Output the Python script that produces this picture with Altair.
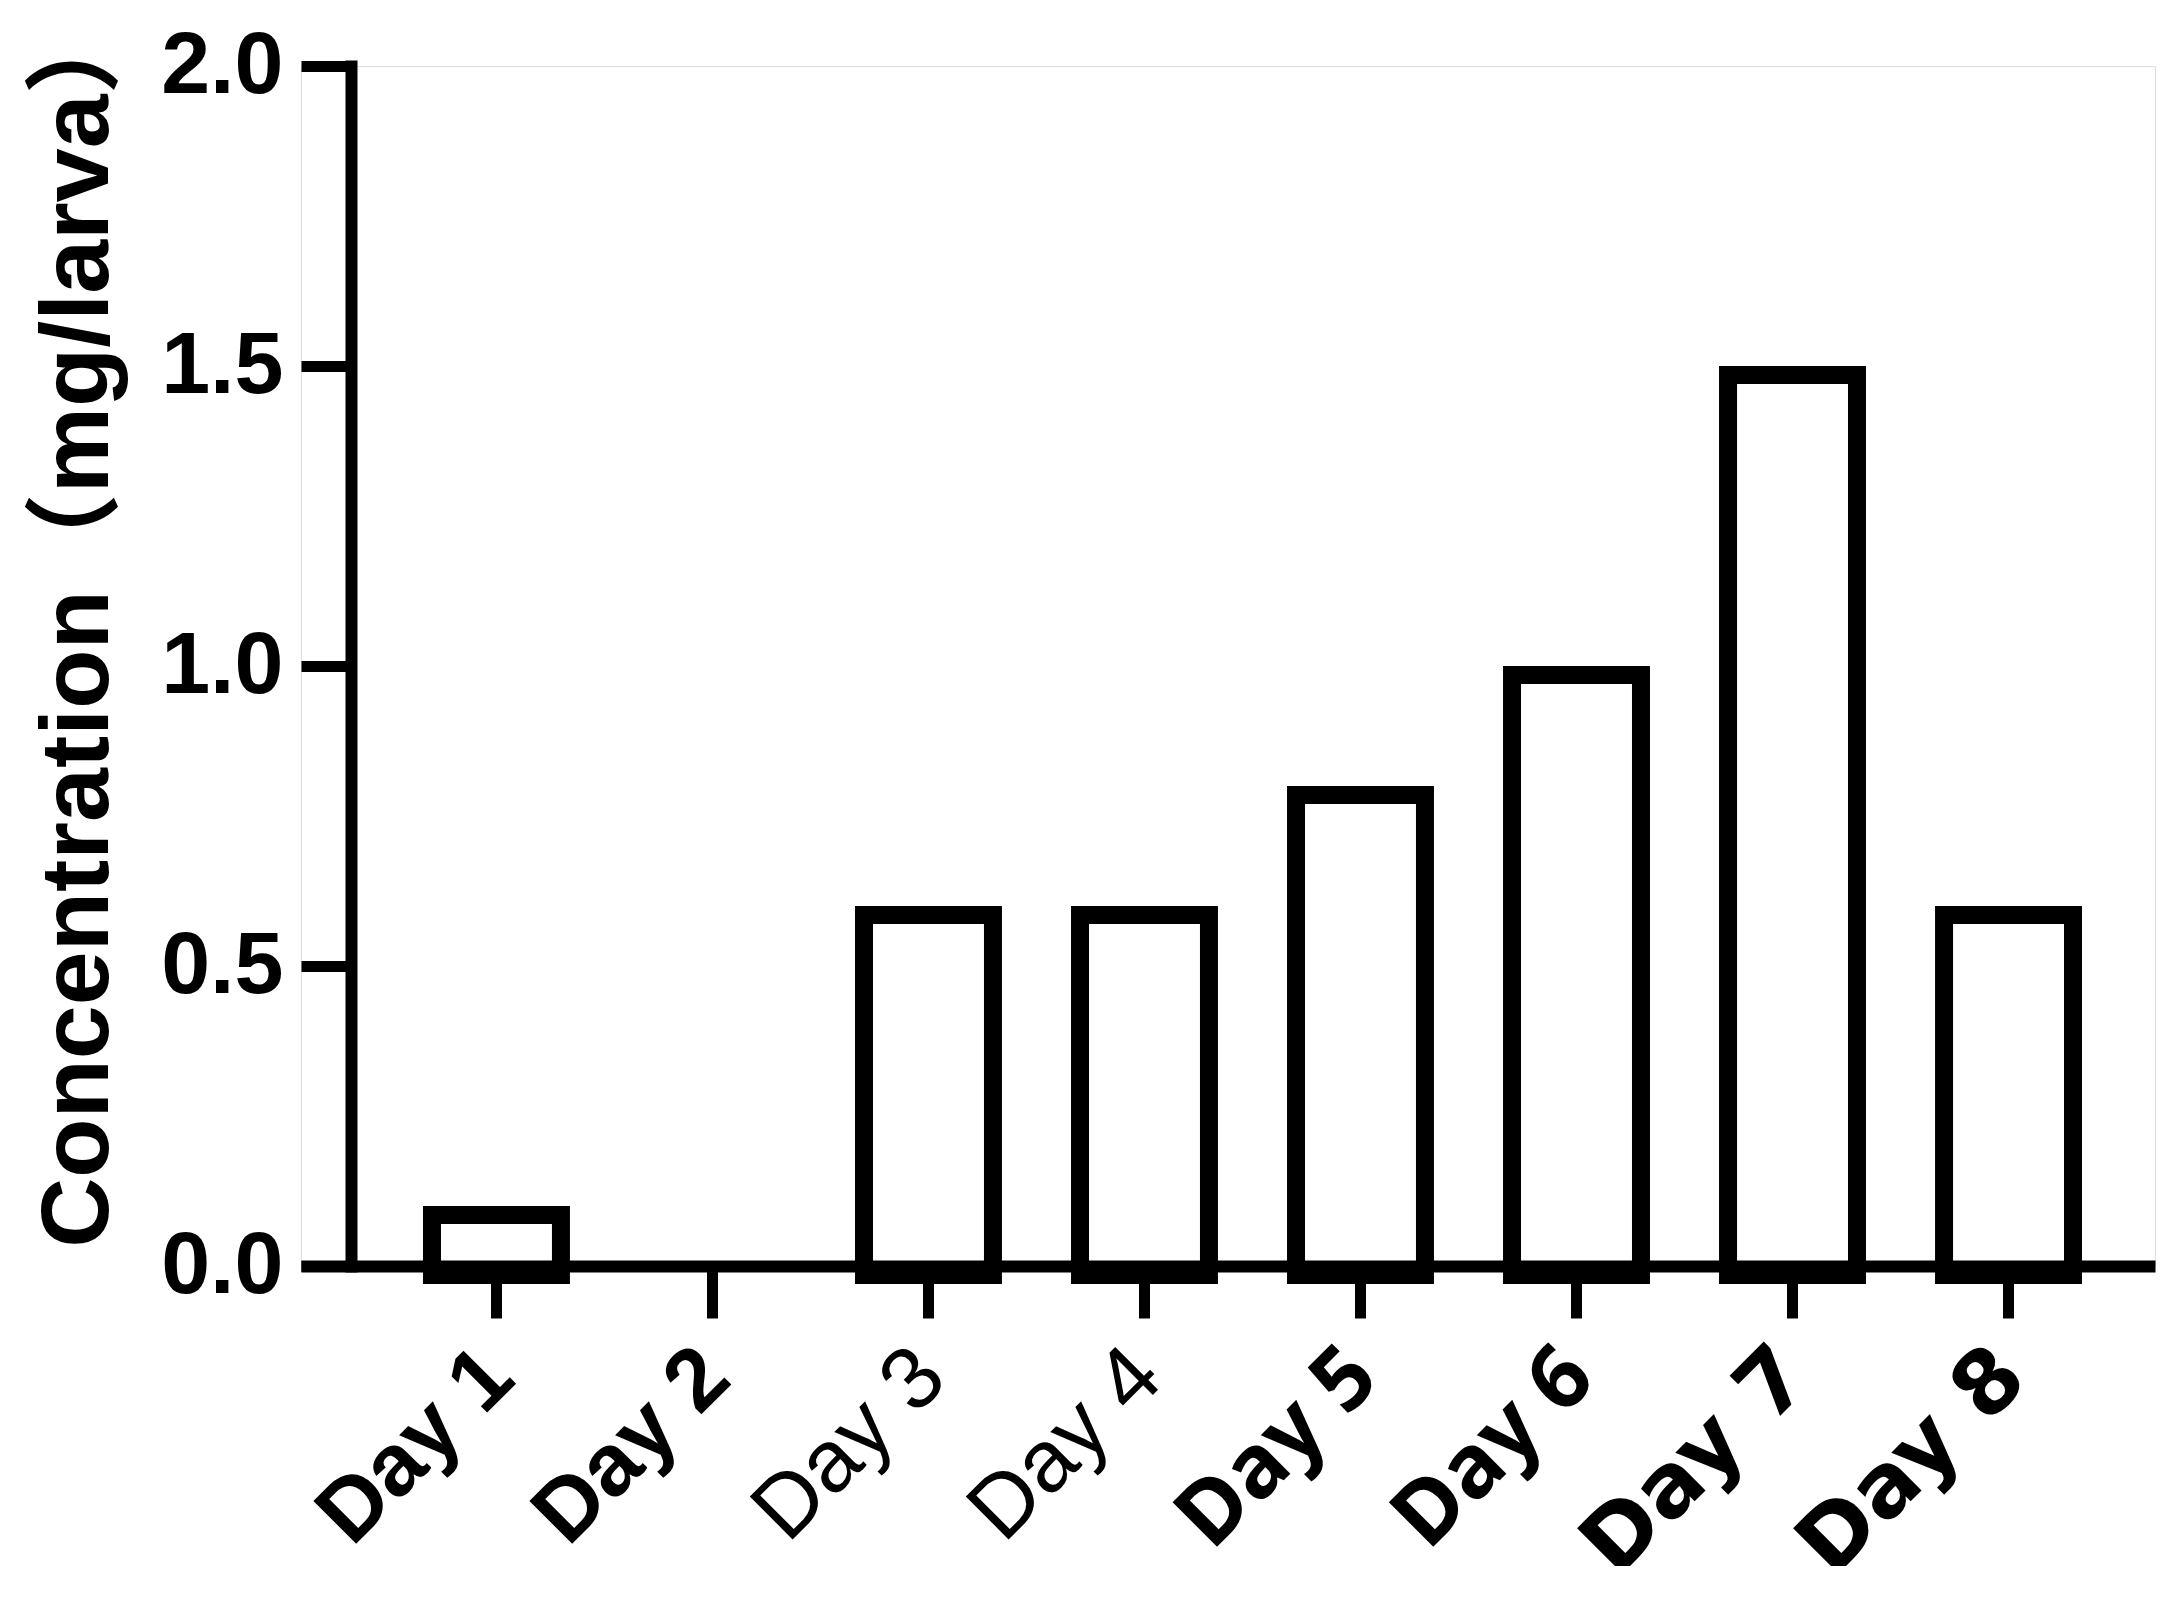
import altair as alt
import pandas as pd

days = ["Day 1", "Day 2", "Day 3", "Day 4", "Day 5", "Day 6", "Day 7", "Day 8"]
values = [0.1, 0.0, 0.6, 0.6, 0.8, 1.0, 1.5, 0.6]
y_ticks = [0.0, 0.5, 1.0, 1.5, 2.0]
y_title = "Concentration（mg/larva）"

df = pd.DataFrame({"day": days, "value": values})

FONT = "Liberation Sans, Arial, Noto Sans CJK SC"

x_font = {
    "condition": [
        {"test": "datum.value == 'Day 5' || datum.value == 'Day 6'", "value": "Noto Sans"},
        {"test": "datum.value == 'Day 7' || datum.value == 'Day 8'", "value": "DejaVu Sans"},
    ],
    "value": "Liberation Sans",
}
x_weight = {
    "condition": {"test": "datum.value == 'Day 3' || datum.value == 'Day 4'", "value": "normal"},
    "value": "bold",
}

chart = (
    alt.Chart(df)
    .transform_filter(alt.datum.value > 0)
    .mark_bar(
        fill="white",
        stroke="black",
        strokeWidth=18,
        yOffset=9,
        y2Offset=-12,
    )
    .encode(
        x=alt.X(
            "day:N",
            sort=days,
            scale=alt.Scale(domain=days, paddingInner=0.403, paddingOuter=0.493, align=0.615),
            axis=alt.Axis(
                title=None,
                labelAngle=-45,
                labelFont=x_font,
                labelFontSize=88,
                labelFontWeight=x_weight,
                labelColor="black",
                labelPadding=14,
                labelOffset=-28,
                labelLimit=2000,
                domainColor="black",
                domainWidth=12,
                tickColor="black",
                tickWidth=11,
                tickSize=52,
                zindex=1,
            ),
        ),
        y=alt.Y(
            "value:Q",
            scale=alt.Scale(domain=[0, 2], nice=False),
            axis=alt.Axis(
                title=y_title,
                titleFont=FONT,
                titleFontSize=97,
                titleFontWeight="bold",
                titleColor="black",
                titlePadding=33,
                titleY=556,
                titleLimit=3000,
                values=y_ticks,
                format=".1f",
                labelFont=FONT,
                labelFontSize=88,
                labelFontWeight="bold",
                labelColor="black",
                labelPadding=18,
                offset=-50,
                domainColor="black",
                domainWidth=12,
                domainCap="square",
                tickColor="black",
                tickWidth=11,
                tickSize=50,
                grid=False,
                zindex=1,
            ),
        ),
    )
    .properties(
        width=1854,
        height=1200,
        autosize=alt.AutoSizeParams(type="none"),
        padding={"left": 293, "top": 58, "right": 21, "bottom": 300},
    )
    .configure_view(stroke="transparent", strokeOpacity=0, strokeWidth=0)
    .configure(background="white")
)

chart.save("out.html", embed_options={"renderer": "svg", "actions": False})
